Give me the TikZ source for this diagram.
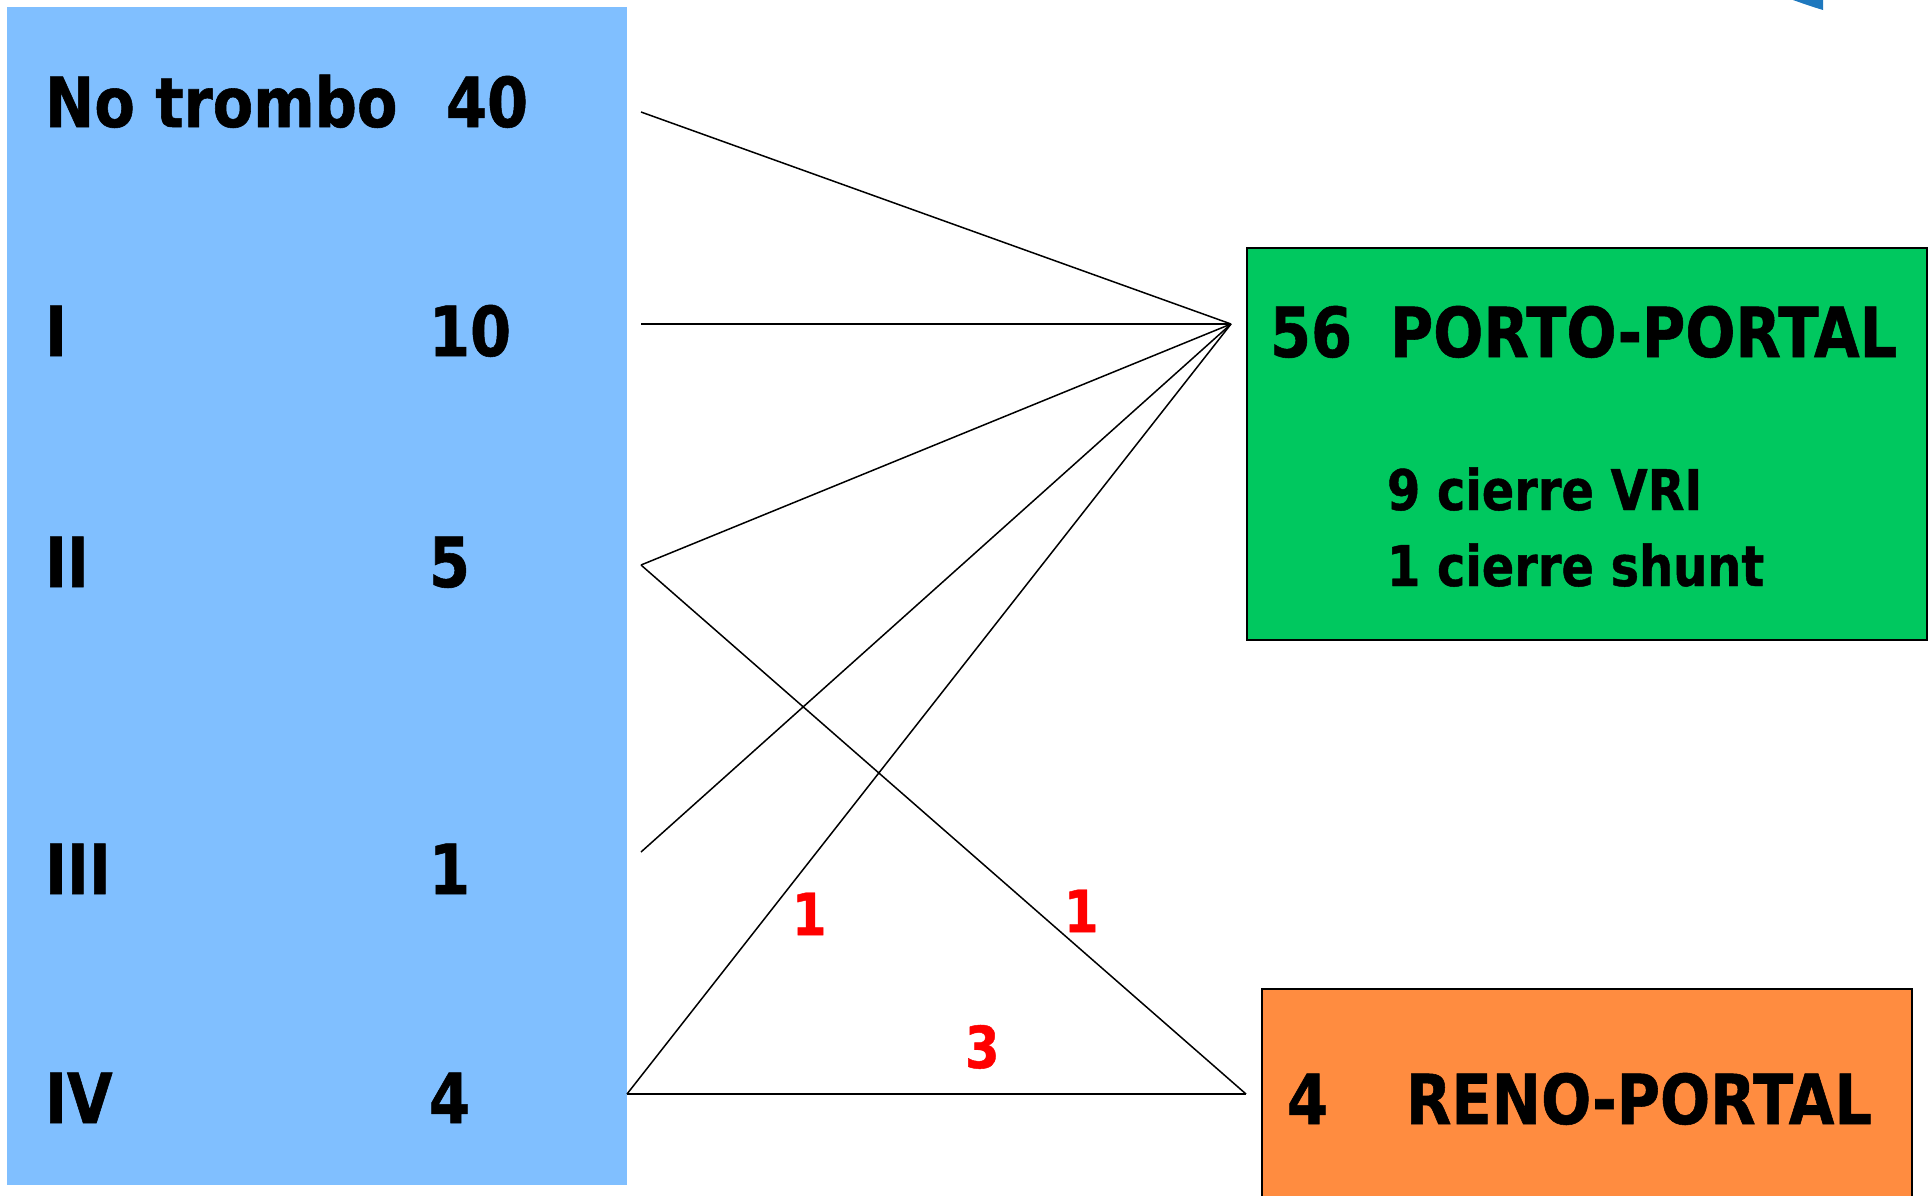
\documentclass[tikz,border=0pt]{standalone}
\usepackage{fontspec}
\setmainfont{DejaVu Sans}[FakeStretch=0.855,BoldFeatures={FakeBold=0.8}]
\definecolor{bluebox}{RGB}{128,191,255}
\definecolor{greenbox}{RGB}{0,200,95}
\definecolor{orangebox}{RGB}{255,140,64}
\definecolor{logoblue}{RGB}{30,120,190}
\begin{document}
\begin{tikzpicture}[x=0.5pt,y=-0.5pt,
  every node/.style={inner sep=0pt,outer sep=0pt},
  txt/.style={anchor=base west},
  big/.style={txt,font=\bfseries\fontsize{34.5}{40}\selectfont},
  mid/.style={txt,font=\bfseries\fontsize{28}{33}\selectfont},
  cnt/.style={txt,text=red,font=\bfseries\fontsize{29}{34}\selectfont},
  box/.style={draw=black,line width=1pt,anchor=north west},
  conn/.style={line width=0.75pt,black}]
\useasboundingbox (0,0) rectangle (1931,1195);
\fill[logoblue] (1793,0) -- (1823,0) -- (1823,10) .. controls (1810,6) .. (1793,0) -- cycle;
% boxes
\node[fill=bluebox,anchor=north west,minimum width=310pt,minimum height=589pt] (left) at (7,7) {};
\node[box,fill=greenbox,minimum width=340pt,minimum height=196pt] (porto) at (1247,248) {};
\node[box,fill=orangebox,minimum width=325pt,minimum height=106pt] (reno) at (1262,989) {};
% left labels
\node[big] (l0) at (45,127) {No trombo};
\node[big] (n0) at (446,127) {40};
\node[big] (l1) at (45,356) {I};
\node[big] (n1) at (429,356) {10};
\node[big] (l2) at (45,587) {II};
\node[big] (n2) at (429,587) {5};
\node[big] (l3) at (45,894) {III};
\node[big] (n3) at (429,894) {1};
\node[big] (l4) at (45,1123) {IV};
\node[big] (n4) at (429,1123) {4};
% right labels
\node[big] (pn) at (1270,357) {56};
\node[big] (pt) at (1390,357) {PORTO-PORTAL};
\node[mid] (p1) at (1387,510) {9 cierre VRI};
\node[mid] (p2) at (1387,586) {1 cierre shunt};
\node[big] (rn) at (1287,1124) {4};
\node[big] (rt) at (1406,1124) {RENO-PORTAL};
% connector ends
\coordinate (pin) at (1231,324);
\coordinate (rin) at (1246,1094);
\coordinate (r0) at (641,112);
\coordinate (r1) at (641,324);
\coordinate (r2) at (641,565);
\coordinate (r3) at (641,852);
\coordinate (r4) at (627,1094);
\draw[conn] (r0) -- (pin);
\draw[conn] (r1) -- (pin);
\draw[conn] (r2) -- (pin);
\draw[conn] (r3) -- (pin);
\draw[conn] (r4) -- (pin);
\draw[conn] (r2) -- (rin);
\draw[conn] (r4) -- (rin);
% counts
\node[cnt] (c1) at (792,935) {1};
\node[cnt] (c2) at (1064,932) {1};
\node[cnt] (c3) at (965,1068) {3};
\end{tikzpicture}
\end{document}
